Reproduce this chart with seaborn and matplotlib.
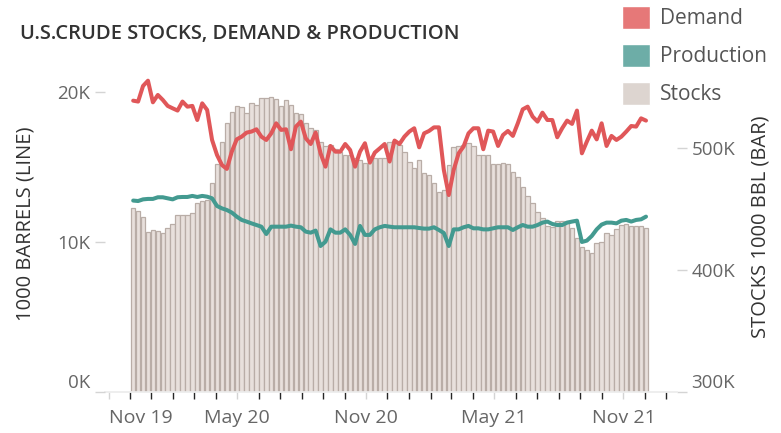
import matplotlib
matplotlib.use("Agg")
import matplotlib.pyplot as plt
import matplotlib.dates as mdates
from matplotlib.patches import Patch
import seaborn as sns
import pandas as pd

# weekly EIA-style series (1000 barrels)
weeks = pd.date_range("2019-12-06", periods=105, freq="7D")

stocks = [450600, 448600, 443700, 431400, 432800, 432000, 430000, 434700, 437700, 445000,
          445000, 445000, 447000, 454700, 456600, 457400, 471000, 486600, 505000, 520700,
          529800, 534400, 533400, 528400, 536600, 535200, 540700, 540700, 542000, 539800,
          534400, 539000, 535000, 528600, 528000, 520700, 516000, 514800, 505000, 501600,
          502500, 499000, 497000, 494000, 494000, 491500, 490000, 487400, 490700, 491500,
          491500, 491500, 505000, 506000, 502500, 497000, 488800, 483400, 490000, 479200,
          477900, 471000, 464200, 465600, 486000, 501000, 501600, 502500, 503800, 501600,
          494300, 494300, 494300, 486600, 486600, 488000, 486600, 480600, 476000, 468300,
          460700, 454700, 447800, 442400, 436000, 435500, 440400, 440400, 440000, 434200,
          426000, 419100, 416400, 414200, 421900, 423200, 430000, 428700, 433300, 436900,
          437700, 436000, 436000, 436000, 434200]

demand = [19420, 19360, 20400, 20750, 19310, 19800, 19470, 19070, 18910, 18760,
          19360, 19020, 19070, 18130, 19240, 18800, 16800, 15800, 15130, 14870,
          16020, 16840, 17020, 17290, 17360, 17510, 17020, 16800, 17240, 17910,
          17470, 17510, 16180, 17690, 18020, 16910, 16530, 17290, 15910, 15020,
          16400, 16020, 16020, 16530, 16130, 15020, 16020, 16580, 15290, 15960,
          16240, 16530, 15360, 16760, 16530, 17020, 17360, 17580, 16310, 17240,
          17400, 17640, 17640, 14800, 13130, 14800, 15910, 16360, 17240, 17580,
          17580, 16180, 17420, 17360, 16400, 17130, 17400, 17070, 17910, 18840,
          19020, 18360, 18020, 18620, 18130, 18130, 16980, 17580, 18090, 17870,
          18760, 15910, 16690, 17420, 16840, 17910, 16400, 17070, 16800, 17020,
          17360, 17730, 17690, 18240, 18090]

production = [12760, 12730, 12840, 12870, 12870, 12980, 12980, 12910, 12840, 12980,
              13000, 13000, 13070, 13000, 13070, 13020, 12910, 12400, 12240, 12130,
              11960, 11690, 11470, 11360, 11240, 11130, 11020, 10530, 11020, 11020,
              11020, 11020, 11090, 11020, 10980, 10690, 10620, 10760, 9730, 10020,
              10840, 10620, 10620, 10840, 10470, 9870, 11070, 10470, 10470, 10840,
              10980, 11070, 11020, 10980, 10980, 10980, 10980, 10980, 10930, 10890,
              10890, 10980, 10800, 10600, 9730, 10840, 10840, 10980, 11070, 10910,
              10910, 10840, 10840, 10910, 10980, 10980, 10980, 10800, 10980, 11130,
              11020, 11020, 11130, 11290, 11360, 11200, 11130, 11130, 11290, 11360,
              11420, 10000, 10090, 10400, 10840, 11160, 11290, 11290, 11240, 11420,
              11470, 11360, 11470, 11510, 11690]

tick_dates = ["2019-11-01", "2020-05-01", "2020-11-01", "2021-05-01", "2021-11-01"]
tick_labels = ["Nov 19", "May 20", "Nov 20", "May 21", "Nov 21"]

c_demand, c_prod = "#e05759", "#439a90"
c_bar, c_edge = "#e8e0dc", "#b9ada7"

sns.set_theme(style="white")
plt.rcParams['font.family'] = ['Open Sans', 'DejaVu Sans']

x = mdates.date2num(weeks)

fig = plt.figure(figsize=(7.81, 4.33), dpi=100)
ax_bar = fig.add_axes([105 / 781, 1 - 392 / 433, 572 / 781, 317 / 433])
ax_line = ax_bar.twinx()

sns.barplot(x=x, y=stocks, native_scale=True, color=c_bar, saturation=1,
            edgecolor=c_edge, linewidth=0.9, width=0.9, errorbar=None, ax=ax_bar)
sns.lineplot(x=x, y=demand, color=c_demand, linewidth=2.9, ax=ax_line)
sns.lineplot(x=x, y=production, color=c_prod, linewidth=2.9, ax=ax_line)

# axis sides: lines on the left, bars on the right
ax_line.yaxis.tick_left()
ax_line.yaxis.set_label_position('left')
ax_bar.yaxis.tick_right()
ax_bar.yaxis.set_label_position('right')

x0 = mdates.date2num(pd.Timestamp("2019-11-01"))
ax_bar.set_xlim(x0 - 5, x0 + 807)
ax_bar.set_ylim(300000, 559800)
ax_line.set_ylim(0, 21130)

ax_bar.set_xticks(mdates.date2num(pd.to_datetime(tick_dates)), tick_labels)
ax_bar.set_xticks(mdates.date2num(pd.date_range("2019-11-01", "2022-01-01", freq="MS")), minor=True)
ax_bar.set_yticks([300000, 400000, 500000], ["300K", "400K", "500K"])
ax_line.set_yticks([0, 10000, 20000], ["0K", "10K", "20K"])

for a in (ax_bar, ax_line):
    for s in a.spines.values():
        s.set_visible(False)
    a.tick_params(colors="#d4d4d4", labelcolor="#666666", labelsize=13.5, length=7, width=1)
ax_bar.tick_params(axis="x", which="both", length=5, pad=7, labelsize=14, bottom=True)
ax_bar.spines["bottom"].set_visible(True)
ax_bar.spines["bottom"].set_color("#ececec")

ax_bar.get_xticklabels()[0].set_ha("left")
ax_bar.get_yticklabels()[0].set_va("bottom")
ax_line.get_yticklabels()[0].set_va("bottom")

ax_bar.set_xlabel("")
ax_line.set_xlabel("")
ax_line.set_ylabel("1000 BARRELS (LINE)", fontsize=14.5, color="#333333")
ax_bar.set_ylabel("STOCKS 1000 BBL (BAR)", fontsize=14.5, color="#333333")
ax_line.yaxis.set_label_coords(-0.122, 0.53)
ax_bar.yaxis.set_label_coords(1.129, 0.52)

fig.text(20 / 781, 1 - 34 / 433, "U.S.CRUDE STOCKS, DEMAND & PRODUCTION",
         fontsize=14.5, fontweight="semibold", color="#333333", va="center")

handles = [Patch(facecolor="#e67878"), Patch(facecolor="#6dada7"), Patch(facecolor="#ddd5d0")]
fig.legend(handles, ["Demand", "Production", "Stocks"], loc="upper left",
           bbox_to_anchor=(622 / 781, 1 - 6 / 433), frameon=False, fontsize=15,
           handlelength=1.35, handleheight=1.3, handletextpad=0.48, labelspacing=0.7,
           borderpad=0, borderaxespad=0, labelcolor="#555555")

fig.savefig("out.png", dpi=100)
